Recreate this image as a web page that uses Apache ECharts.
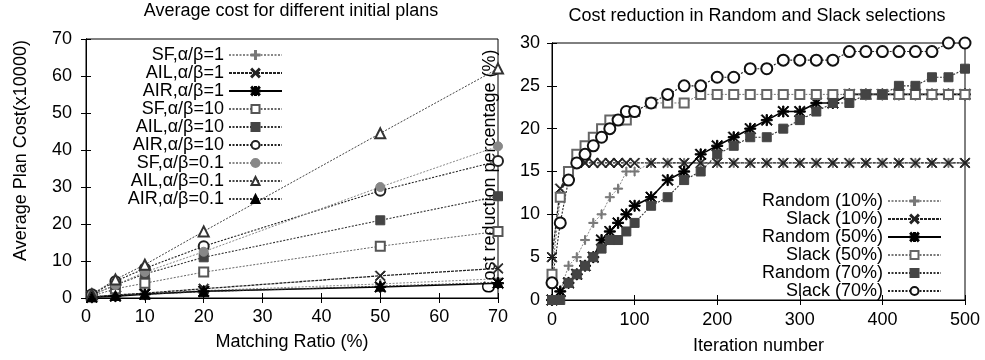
<!DOCTYPE html>
<html>
<head>
<meta charset="utf-8">
<script src="https://cdn.jsdelivr.net/npm/echarts@6/dist/echarts.min.js"></script>
<style>
  html, body { margin: 0; padding: 0; background: #fff; }
  #chart { width: 985px; height: 360px; }
</style>
</head>
<body>
<div id="chart"></div>
<script>
// left panel: matching ratio (%) vs average plan cost (x10000)
var ratios = [1, 5, 10, 20, 50, 70];
var sf_1    = [0.3, 0.8, 1.2, 2.0, 3.8, 5.2];
var ail_1   = [0.3, 0.8, 1.3, 2.5, 6.0, 8.0];
var air_1   = [0.2, 0.5, 1.0, 1.8, 3.0, 4.0];
var sf_10   = [0.5, 2.5, 4.0, 7.0, 14.0, 18.0];
var ail_10  = [0.8, 3.5, 6.5, 11.0, 21.0, 27.5];
var air_10  = [1.0, 4.5, 8.0, 14.0, 29.0, 37.0];
var sf_01   = [0.8, 3.5, 7.0, 12.5, 30.0, 41.0];
var ail_01  = [1.0, 5.0, 9.0, 18.0, 44.5, 62.0];
var air_01  = [0.3, 0.7, 1.0, 1.7, 3.2, 4.2];

// right panel: iteration number vs cost reduction (%)
var iters = [0, 10, 20, 30, 40, 50, 60, 70, 80, 90, 100, 120, 140, 160, 180, 200,
             220, 240, 260, 280, 300, 320, 340, 360, 380, 400, 420, 440, 460, 480, 500];
var random10 = [0, 1, 4, 5, 7, 9, 10, 12, 13, 15, 15, 16, 16, 16, 16, 16,
                16, 16, 16, 16, 16, 16, 16, 16, 16, 16, 16, 16, 16, 16, 16];
var slack10  = [5, 13, 15, 16, 16, 16, 16, 16, 16, 16, 16, 16, 16, 16, 16, 16,
                16, 16, 16, 16, 16, 16, 16, 16, 16, 16, 16, 16, 16, 16, 16];
var random50 = [0, 1, 2, 3, 4, 5, 7, 8, 9, 10, 11, 12, 14, 15, 17, 18,
                19, 20, 21, 22, 22, 23, 23, 24, 24, 24, 24, 24, 24, 24, 24];
var slack50  = [3, 12, 15, 17, 18, 19, 20, 21, 21, 21, 22, 23, 23, 23, 24, 24,
                24, 24, 24, 24, 24, 24, 24, 24, 24, 24, 24, 24, 24, 24, 24];
var random70 = [0, 0, 2, 3, 4, 5, 6, 7, 7, 8, 9, 11, 12, 14, 15, 17,
                18, 19, 19, 20, 21, 22, 23, 23, 24, 24, 25, 25, 26, 26, 27];
var slack70  = [2, 9, 14, 16, 17, 18, 19, 20, 21, 22, 22, 23, 24, 25, 25, 26,
                26, 27, 27, 28, 28, 28, 28, 29, 29, 29, 29, 29, 29, 30, 30];

// gnuplot-ish point shapes
var PLUS = 'path://M4.4,0H5.6V4.4H10V5.6H5.6V10H4.4V5.6H0V4.4H4.4Z';
var CROSS = 'path://M0,0.8L0.8,0L5,4.2L9.2,0L10,0.8L5.8,5L10,9.2L9.2,10L5,5.8L0.8,10L0,9.2L4.2,5Z';
var STAR = 'path://M4.4,0H5.6V4.4H10V5.6H5.6V10H4.4V5.6H0V4.4H4.4Z' +
           'M0,0.8L0.8,0L5,4.2L9.2,0L10,0.8L5.8,5L10,9.2L9.2,10L5,5.8L0.8,10L0,9.2L4.2,5Z';

var FONT = 'Liberation Sans';
var FS = 18;

function pairs(xs, ys) {
  return xs.map(function (x, i) { return [x, ys[i]]; });
}

function mk(name, xs, ys, axis, sym, size, color, lineColor, width, dash) {
  return {
    name: name,
    type: 'line',
    xAxisIndex: axis,
    yAxisIndex: axis,
    data: pairs(xs, ys),
    symbol: sym,
    symbolSize: size,
    showAllSymbol: true,
    itemStyle: { color: color, borderColor: color, borderWidth: 1 },
    lineStyle: { color: lineColor, width: width, type: dash },
    emphasis: { disabled: true }
  };
}

var DOT = [2, 1.5];

var chart = echarts.init(document.getElementById('chart'));

function valAxis(opt) {
  var base = {
    type: 'value',
    axisLine: { show: true, lineStyle: { color: '#000', width: 1 } },
    axisTick: { show: true, inside: true, length: 5, lineStyle: { color: '#000' } },
    axisLabel: { color: '#000', fontFamily: FONT, fontSize: FS },
    splitLine: { show: false },
    nameTextStyle: { color: '#000', fontFamily: FONT, fontSize: FS }
  };
  for (var k in opt) base[k] = opt[k];
  return base;
}

var titleStyle = { fontFamily: FONT, fontSize: FS, fontWeight: 'normal', color: '#000' };
var legendText = { fontFamily: FONT, fontSize: FS, color: '#000', lineHeight: 18 };

var option = {
  animation: false,
  backgroundColor: '#fff',
  title: [
    { text: 'Average cost for different initial plans', left: 291, top: 2, padding: 0,
      textAlign: 'center', textStyle: titleStyle },
    { text: 'Cost reduction in Random and Slack selections', left: 757, top: 7, padding: 0,
      textAlign: 'center', textStyle: titleStyle }
  ],
  grid: [
    { left: 86, top: 39, width: 412, height: 259, show: true, borderColor: '#000', borderWidth: 1 },
    { left: 552, top: 43, width: 413, height: 259, show: true, borderColor: '#000', borderWidth: 1 }
  ],
  xAxis: [
    valAxis({ gridIndex: 0, min: 0, max: 70, interval: 10, position: 'bottom',
      name: 'Matching Ratio (%)', nameLocation: 'middle', nameGap: 35,
      axisLabel: { color: '#000', fontFamily: FONT, fontSize: FS, margin: 10 } }),
    valAxis({ gridIndex: 0, min: 0, max: 70, interval: 10, position: 'top',
      axisLabel: { show: false } }),
    valAxis({ gridIndex: 1, min: 0, max: 500, interval: 100, position: 'bottom',
      name: 'Iteration number', nameLocation: 'middle', nameGap: 37,
      axisLabel: { color: '#000', fontFamily: FONT, fontSize: FS, margin: 11 } }),
    valAxis({ gridIndex: 1, min: 0, max: 500, interval: 100, position: 'top',
      axisLabel: { show: false } })
  ],
  yAxis: [
    valAxis({ gridIndex: 0, min: 0, max: 70, interval: 10, position: 'left',
      name: 'Average Plan Cost(x10000)', nameLocation: 'middle', nameGap: 56,
      nameTextStyle: { color: '#000', fontFamily: FONT, fontSize: FS, padding: [0, 0, 0, 36] },
      axisLabel: { color: '#000', fontFamily: FONT, fontSize: FS, margin: 14 } }),
    valAxis({ gridIndex: 0, min: 0, max: 70, interval: 10, position: 'right',
      axisLabel: { show: false } }),
    valAxis({ gridIndex: 1, min: 0, max: 30, interval: 5, position: 'left',
      name: 'Cost reduction percentage (%)', nameLocation: 'middle', nameGap: 53,
      axisLabel: { color: '#000', fontFamily: FONT, fontSize: FS, margin: 12 } }),
    valAxis({ gridIndex: 1, min: 0, max: 30, interval: 5, position: 'right',
      axisLabel: { show: false } })
  ],
  legend: [
    {
      data: ['SF,α/β=1', 'AIL,α/β=1', 'AIR,α/β=1', 'SF,α/β=10', 'AIL,α/β=10', 'AIR,α/β=10',
             'SF,α/β=0.1', 'AIL,α/β=0.1', 'AIR,α/β=0.1'],
      orient: 'vertical', align: 'right', right: 697, top: 41,
      itemWidth: 53, itemHeight: 10, itemGap: 0, selectedMode: false,
      textStyle: legendText
    },
    {
      data: ['Random (10%)', 'Slack (10%)', 'Random (50%)', 'Slack (50%)', 'Random (70%)', 'Slack (70%)'],
      orient: 'vertical', align: 'right', right: 38, top: 187,
      itemWidth: 53, itemHeight: 10, itemGap: 0, selectedMode: false,
      textStyle: legendText
    }
  ],
  series: [
    mk('SF,α/β=1', ratios, sf_1, 0, PLUS, 9, '#777', '#888', 1, DOT),
    mk('AIL,α/β=1', ratios, ail_1, 0, CROSS, 10, '#222', '#222', 1.3, [3, 1]),
    mk('AIR,α/β=1', ratios, air_1, 0, STAR, 11, '#000', '#000', 1.5, 'solid'),
    mk('SF,α/β=10', ratios, sf_10, 0, 'emptyRect', 9, '#555', '#666', 1, DOT),
    mk('AIL,α/β=10', ratios, ail_10, 0, 'rect', 9, '#444', '#333', 1.1, DOT),
    mk('AIR,α/β=10', ratios, air_10, 0, 'emptyCircle', 10, '#222', '#222', 1.1, DOT),
    mk('SF,α/β=0.1', ratios, sf_01, 0, 'circle', 9, '#888', '#888', 1, DOT),
    mk('AIL,α/β=0.1', ratios, ail_01, 0, 'emptyTriangle', 10, '#333', '#444', 1, DOT),
    mk('AIR,α/β=0.1', ratios, air_01, 0, 'triangle', 10, '#000', '#333', 1, DOT),

    mk('Random (10%)', iters, random10, 2, PLUS, 9, '#777', '#888', 1, DOT),
    mk('Slack (10%)', iters, slack10, 2, CROSS, 10, '#222', '#222', 1.3, [3, 1]),
    mk('Random (50%)', iters, random50, 2, STAR, 11, '#000', '#000', 1.6, 'solid'),
    mk('Slack (50%)', iters, slack50, 2, 'emptyRect', 9, '#666', '#777', 1, DOT),
    mk('Random (70%)', iters, random70, 2, 'rect', 9, '#444', '#333', 1.1, DOT),
    mk('Slack (70%)', iters, slack70, 2, 'emptyCircle', 11, '#111', '#222', 1.1, DOT)
  ]
};

chart.setOption(option);
</script>
</body>
</html>
